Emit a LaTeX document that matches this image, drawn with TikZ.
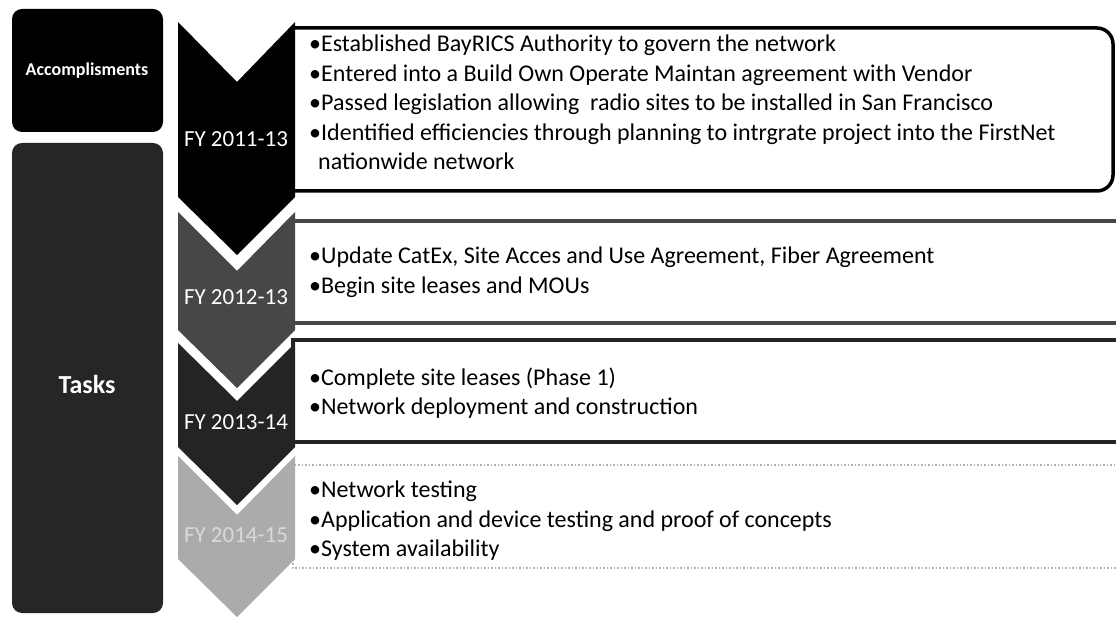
\documentclass[tikz,border=0pt]{standalone}
\usepackage{fontspec}
\setmainfont{Carlito}
\begin{document}
\begin{tikzpicture}[x=1pt,y=-1pt,
  lbox/.style={rounded corners=10pt},
  fylab/.style={text=white, inner sep=0pt, anchor=base, font=\fontsize{23}{26}\selectfont},
  leftlab/.style={text=white, inner sep=0pt, font=\bfseries\fontsize{18}{21}\selectfont},
  itm/.style={anchor=base west, inner sep=0pt, font=\fontsize{24}{28}\selectfont},
  cTwo/.style={fill=black!72},
  cThree/.style={fill=black!86},
  cFour/.style={fill=black!33}]
\clip (0,0) rectangle (1116,617);
\fill[white] (0,0) rectangle (1116,617);

% left panels
\fill[black, lbox] (12,9) rectangle (163,132);
\node[leftlab] (acc) at (87,71) {Accomplisments};
\fill[black!85, lbox] (12,143) rectangle (163,613);
\node[leftlab, font=\bfseries\fontsize{26}{30}\selectfont] (tasks) at (87,384) {Tasks};

% content boxes
\draw[line width=3.5pt, black, rounded corners=16pt] (293,28) -- (1113,28) -- (1113,191) -- (293,191);
\draw[line width=3.5pt, black] (293,28) -- (293,191);
\draw[line width=4pt, black!72] (293,221) rectangle (1140,323);
\draw[line width=4pt, black!86] (293,340) rectangle (1140,442);
\draw[line width=1.5pt, black!30, dotted] (293,465) rectangle (1140,568);

% chevrons
\fill[black] (178,22) -- (237,82) -- (295,22) -- (295,197) -- (237,255) -- (178,197) -- cycle;
\fill[cTwo] (178,212) -- (237,271) -- (295,212) -- (295,330) -- (237,388) -- (178,330) -- cycle;
\fill[cThree] (178,343) -- (237,401) -- (295,343) -- (295,447) -- (237,505) -- (178,447) -- cycle;
\fill[cFour] (178,456) -- (237,515) -- (295,456) -- (295,559) -- (237,617) -- (178,559) -- cycle;

\node[fylab] (fy1) at (236,147) {FY 2011-13};
\node[fylab] (fy2) at (236,305) {FY 2012-13};
\node[fylab] (fy3) at (236,429) {FY 2013-14};
\node[fylab, text=white!85!black] (fy4) at (236,542) {FY 2014-15};

% box texts
\node[itm] (a1) at (309,52) {\textbullet Established BayRICS Authority to govern the network};
\node[itm] (a2) at (309,81.5) {\textbullet Entered into a Build Own Operate Maintan agreement with Vendor};
\node[itm] (a3) at (309,111) {\textbullet Passed legislation allowing\ \ radio sites to be installed in San Francisco};
\node[itm] (a4) at (309,140.5) {\textbullet Identified efficiencies through planning to intrgrate project into the FirstNet};
\node[itm] (a5) at (318,170) {nationwide network};

\node[itm] (b1) at (309,264) {\textbullet Update CatEx, Site Acces and Use Agreement, Fiber Agreement};
\node[itm] (b2) at (309,293.5) {\textbullet Begin site leases and MOUs};

\node[itm] (c1) at (309,385) {\textbullet Complete site leases (Phase 1)};
\node[itm] (c2) at (309,414.5) {\textbullet Network deployment and construction};

\node[itm] (d1) at (309,497.5) {\textbullet Network testing};
\node[itm] (d2) at (309,527) {\textbullet Application and device testing and proof of concepts};
\node[itm] (d3) at (309,556.5) {\textbullet System availability};
\end{tikzpicture}
\end{document}
